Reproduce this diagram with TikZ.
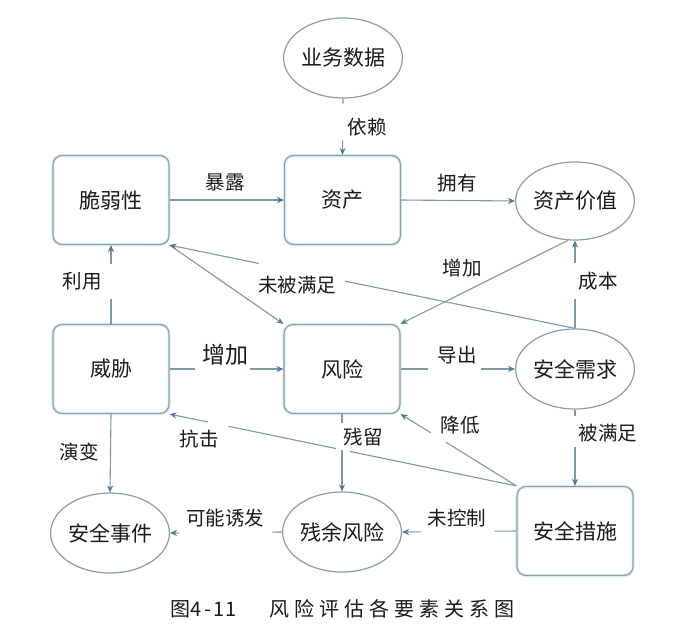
\documentclass[tikz,border=0pt]{standalone}
\usepackage{fontspec}
\newfontfamily\cjk{Noto Sans CJK SC}
\usetikzlibrary{shapes.geometric,arrows.meta,calc}
\definecolor{boxc}{HTML}{8C9EA6}
\definecolor{linec}{HTML}{7F98A3}
\definecolor{arrc}{HTML}{4B7C9A}
\definecolor{halo}{HTML}{E2F2F7}
\definecolor{txt}{HTML}{1A1A1A}
\newcommand\mynodefont{\cjk\fontsize{21}{24}\selectfont}
\newcommand\mylblfont{\cjk\fontsize{19.5}{22}\selectfont}
\newcommand\mybigfont{\cjk\fontsize{23}{26}\selectfont}
\newcommand\mycapfont{\cjk\fontsize{20}{22}\selectfont}
\newcommand\gapedge[5]{%
  \path (#1) -- (#2) coordinate[pos=#3] (#5a) coordinate[pos=#4] (#5b);
  \draw[conn] (#1) -- (#5a);
  \draw[conn,arr] (#5b) -- (#2);}
\tikzset{
  rbox/.style={draw=boxc, line width=1.2pt, rounded corners=9pt, minimum width=116pt,
    minimum height=89pt, inner sep=0pt, font=\mynodefont, text=txt,
    preaction={draw=halo, line width=3.5pt}},
  ebox/.style={ellipse, draw=boxc, line width=1.2pt, minimum width=116pt,
    minimum height=80pt, inner sep=0pt, font=\mynodefont, text=txt},
  conn/.style={draw=linec, line width=1.1pt},
  arr/.style={-{Stealth[length=7pt,width=6pt,color=arrc]}},
  lbl/.style={font=\mylblfont, text=txt, inner sep=0pt},
  biglbl/.style={font=\mybigfont, text=txt, inner sep=0pt},
  captext/.style={font=\mycapfont, text=txt, inner sep=0pt},
}
\begin{document}
\begin{tikzpicture}[x=1pt,y=-1pt]
\useasboundingbox[fill=white] (0,0) rectangle (695,635);
% nodes
\node[ebox] (biz) at (343,58) {业务数据};
\node[rbox] (vul) at (111,200) {脆弱性};
\node[rbox] (asset) at (342.5,200) {资产};
\node[ebox, minimum height=78pt] (value) at (575,201) {资产价值};
\node[rbox] (threat) at (111,369) {威胁};
\node[rbox] (risk) at (342,369) {风险};
\node[ebox] (req) at (575,369) {安全需求};
\node[ebox] (event) at (110,533) {安全事件};
\node[ebox] (resid) at (342,532) {残余风险};
\node[rbox] (meas) at (575,531) {安全措施};
% continuous connectors
\draw[conn,arr] (vul.east) -- (asset.west);
\draw[conn,arr] (asset.east) -- (value.west);
\draw[conn,arr] (threat.south) -- (event.north);
\draw[conn,arr] (vul.south east) -- (risk.north west);
\draw[conn,arr] (value.260) -- (risk.north east);
% connectors with a gap at their label
\gapedge{biz.south}{asset.north}{0.09}{0.74}{ga}
\gapedge{threat.north}{vul.south}{0.31}{0.76}{gb}
\gapedge{threat.east}{risk.west}{0.226}{0.704}{gc}
\gapedge{risk.east}{req.west}{0.24}{0.70}{gd}
\gapedge{req.north}{value.south}{0.33}{0.75}{ge}
\gapedge{risk.south}{resid.north}{0.11}{0.47}{gf}
\gapedge{req.south}{meas.north}{0.08}{0.49}{gg}
\gapedge{meas.west}{resid.east}{0.19}{0.83}{gh}
\gapedge{resid.west}{event.east}{0.087}{0.92}{gi}
\gapedge{meas.north west}{risk.south east}{0.61}{0.74}{gj}
\gapedge{req.north}{vul.south east}{0.567}{0.78}{gk}
\path (meas.north west) -- (threat.south east)
  coordinate[pos=0.48] (k1) coordinate[pos=0.52] (k2)
  coordinate[pos=0.83] (k3) coordinate[pos=0.89] (k4);
\draw[conn] (meas.north west) -- (k1);
\draw[conn] (k2) -- (k3);
\draw[conn,arr] (k4) -- (threat.south east);
% labels
\node[lbl] (l1) at (367,127) {依赖};
\node[lbl] (l2) at (225,182) {暴露};
\node[lbl] (l3) at (457,183) {拥有};
\node[lbl] (l4) at (82,281) {利用};
\node[lbl] (l5) at (297,285) {未被满足};
\node[lbl] (l6) at (462,268) {增加};
\node[lbl] (l7) at (598,281) {成本};
\node[biglbl] (l8) at (225,355) {增加};
\node[lbl] (l9) at (457,355) {导出};
\node[lbl] (l10) at (79,452) {演变};
\node[lbl] (l11) at (199,439) {抗击};
\node[lbl] (l12) at (363,437) {残留};
\node[lbl] (l13) at (460,425) {降低};
\node[lbl] (l14) at (608,433) {被满足};
\node[lbl] (l15) at (225,518) {可能诱发};
\node[lbl] (l16) at (457,518) {未控制};
% caption
\node[captext] (caption) at (344,609) {\makebox[19pt]{图}\makebox[12pt]{4}\makebox[11pt]{-}\makebox[12pt]{1}\makebox[12pt]{1}\hspace{30pt}%
\makebox[25pt]{风}\makebox[25pt]{险}\makebox[25pt]{评}\makebox[25pt]{估}\makebox[25pt]{各}\makebox[25pt]{要}\makebox[25pt]{素}\makebox[25pt]{关}\makebox[25pt]{系}\makebox[25pt]{图}};
\end{tikzpicture}
\end{document}
